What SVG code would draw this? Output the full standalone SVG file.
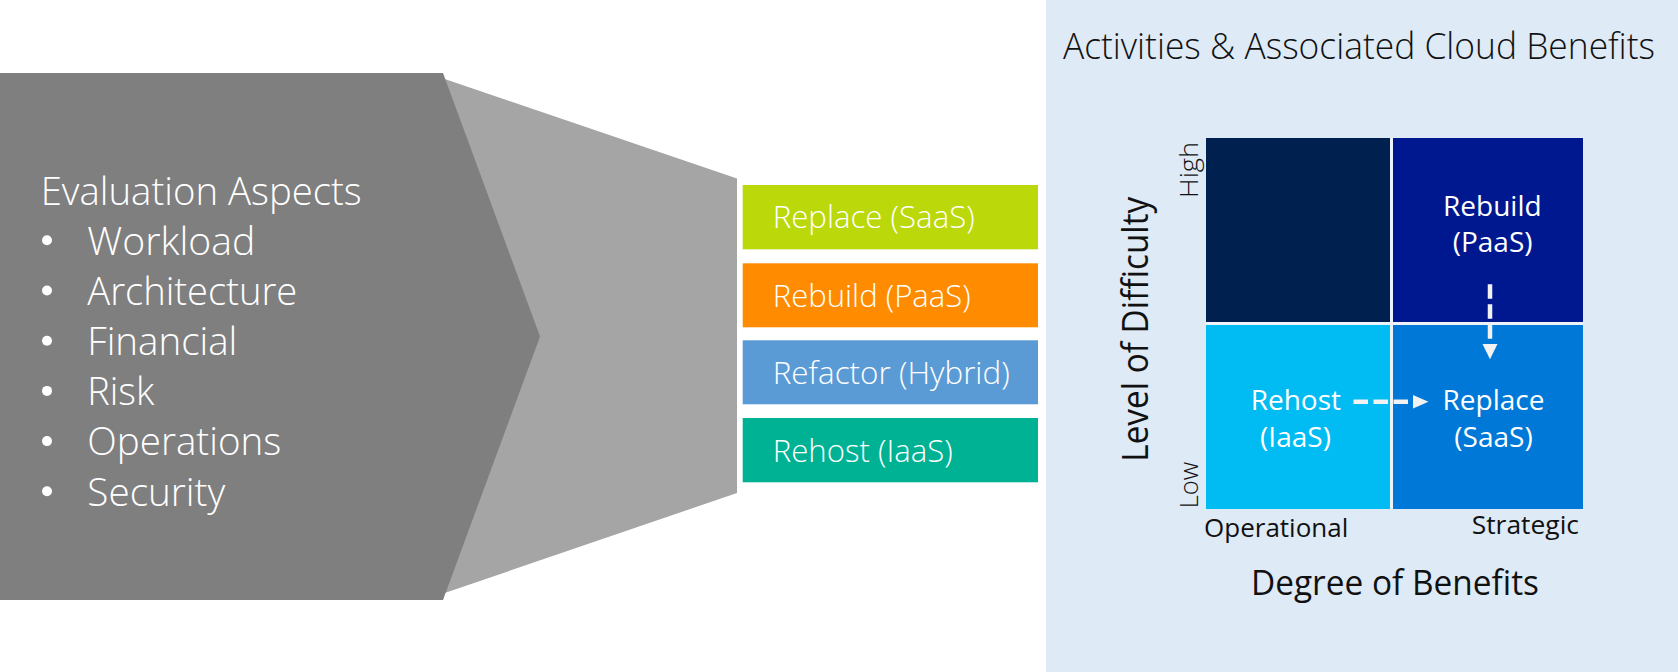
<svg xmlns="http://www.w3.org/2000/svg" width="1678" height="672" viewBox="0 0 1678 672">
  <style>
    text { font-family: "Segoe UI", "Open Sans", "Noto Sans", sans-serif; }
    .lt { font-weight: 300; }
    .w { fill: #ffffff; }
    .k { fill: #111111; }
    .big { font-size: 39px; }
    .box { font-size: 32px; }
    .cell { font-size: 28px; text-anchor: middle; }
    .tick { font-size: 26px; }
    .bul { fill: #ffffff; }
    .dash { stroke: #f2f2f2; stroke-width: 4.5; stroke-dasharray: 14.5 5.5; fill: none; }
    .head { fill: #f2f2f2; }
  </style>

  <rect x="0" y="0" width="1678" height="672" fill="#ffffff"/>

  <g id="funnel">
    <polygon points="430,74 737,178.5 737,493 430,598" fill="#a5a5a5"/>
  </g>

  <g id="evaluation-aspects">
    <polygon points="0,73 443,73 540,336.5 443,600 0,600" fill="#7f7f7f"/>
    <text class="w lt big" x="40.7" y="204.5" textLength="321" lengthAdjust="spacingAndGlyphs">Evaluation Aspects</text>
    <circle class="bul" cx="47" cy="240.3" r="5"/>
    <text class="w lt big" x="87.3" y="254.5" textLength="168" lengthAdjust="spacingAndGlyphs">Workload</text>
    <circle class="bul" cx="47" cy="290.5" r="5"/>
    <text class="w lt big" x="87.3" y="304.7" textLength="210" lengthAdjust="spacingAndGlyphs">Architecture</text>
    <circle class="bul" cx="47" cy="340.7" r="5"/>
    <text class="w lt big" x="87.3" y="354.9" textLength="150" lengthAdjust="spacingAndGlyphs">Financial</text>
    <circle class="bul" cx="47" cy="390.9" r="5"/>
    <text class="w lt big" x="87.3" y="405.1" textLength="67" lengthAdjust="spacingAndGlyphs">Risk</text>
    <circle class="bul" cx="47" cy="441.1" r="5"/>
    <text class="w lt big" x="87.3" y="455.3" textLength="194" lengthAdjust="spacingAndGlyphs">Operations</text>
    <circle class="bul" cx="47" cy="491.3" r="5"/>
    <text class="w lt big" x="87.3" y="505.5" textLength="138" lengthAdjust="spacingAndGlyphs">Security</text>
  </g>

  <g id="box-replace">
    <rect x="742.7" y="185" width="295.3" height="64.3" fill="#bad80a"/>
    <text class="w lt box" x="772.7" y="228.3" textLength="202" lengthAdjust="spacingAndGlyphs">Replace (SaaS)</text>
  </g>
  <g id="box-rebuild">
    <rect x="742.7" y="263.3" width="295.3" height="64" fill="#ff8c00"/>
    <text class="w lt box" x="772.7" y="306.7" textLength="198" lengthAdjust="spacingAndGlyphs">Rebuild (PaaS)</text>
  </g>
  <g id="box-refactor">
    <rect x="742.7" y="340.3" width="295.3" height="64" fill="#5b9bd5"/>
    <text class="w lt box" x="772.7" y="383.5" textLength="237" lengthAdjust="spacingAndGlyphs">Refactor (Hybrid)</text>
  </g>
  <g id="box-rehost">
    <rect x="742.7" y="418" width="295.3" height="64.3" fill="#00b294"/>
    <text class="w lt box" x="772.7" y="462" textLength="180" lengthAdjust="spacingAndGlyphs">Rehost (IaaS)</text>
  </g>

  <g id="benefits-panel">
    <rect x="1046" y="0" width="632" height="672" fill="#deeaf6"/>
    <text class="k lt" x="1063" y="59" font-size="36" textLength="592" lengthAdjust="spacingAndGlyphs">Activities &amp; Associated Cloud Benefits</text>
    <rect x="1206" y="138" width="377" height="371" fill="#eef3fa"/>
    <text class="k" transform="translate(1148.3,329.2) rotate(-90)" x="0" y="0" font-size="37" text-anchor="middle" textLength="265" lengthAdjust="spacingAndGlyphs">Level of Difficulty</text>
    <text class="k lt tick" transform="translate(1198.3,169.9) rotate(-90)" x="0" y="0" text-anchor="middle" textLength="56" lengthAdjust="spacingAndGlyphs">High</text>
    <text class="k lt tick" transform="translate(1198.3,485) rotate(-90)" x="0" y="0" text-anchor="middle" textLength="46.6" lengthAdjust="spacingAndGlyphs">Low</text>
    <text class="k tick" x="1204" y="536.7" textLength="144.3" lengthAdjust="spacingAndGlyphs">Operational</text>
    <text class="k tick" x="1471.7" y="534.3" textLength="107.3" lengthAdjust="spacingAndGlyphs">Strategic</text>
    <text class="k" x="1251" y="595" font-size="35" textLength="288" lengthAdjust="spacingAndGlyphs">Degree of Benefits</text>
  </g>

  <g id="cell-high-operational">
    <rect x="1206" y="138" width="184" height="184" fill="#002050"/>
  </g>
  <g id="cell-rebuild">
    <rect x="1393" y="138" width="190" height="184" fill="#00188f"/>
    <text class="w cell" x="1492.3" y="215.7">Rebuild</text>
    <text class="w cell" x="1492.6" y="251.7">(PaaS)</text>
  </g>
  <g id="cell-rehost">
    <rect x="1206" y="325" width="184" height="184" fill="#00bcf2"/>
    <text class="w cell" x="1295.8" y="410">Rehost</text>
    <text class="w cell" x="1295.5" y="446.7">(IaaS)</text>
  </g>
  <g id="cell-replace">
    <rect x="1393" y="325" width="190" height="184" fill="#0078d7"/>
    <text class="w cell" x="1493.5" y="410">Replace</text>
    <text class="w cell" x="1493.5" y="446.7">(SaaS)</text>
  </g>

  <g id="connectors">
    <line class="dash" x1="1353.5" y1="401.7" x2="1413" y2="401.7"/>
    <polygon class="head" points="1413,395 1428.5,401.7 1413,408.4"/>
    <line class="dash" x1="1490" y1="284.3" x2="1490" y2="343.5"/>
    <polygon class="head" points="1482.5,344 1497.5,344 1490,359.3"/>
  </g>
</svg>
